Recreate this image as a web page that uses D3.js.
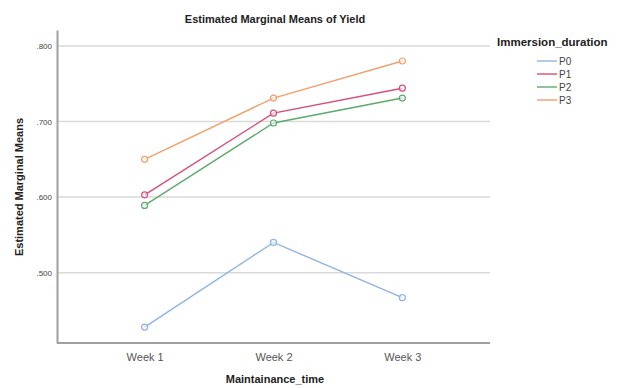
<!DOCTYPE html>
<html><head><meta charset="utf-8">
<script src="https://cdn.jsdelivr.net/npm/d3@7"></script>
<style>body{margin:0;background:#fff}svg{display:block;font-family:"Liberation Sans",Arial,sans-serif}</style>
</head><body><svg id="c" width="622" height="388"></svg>
<script>
const categories = ["Week 1", "Week 2", "Week 3"];
const seriesNames = ["P0", "P1", "P2", "P3"];
const P0 = [0.428, 0.540, 0.467];
const P1 = [0.603, 0.711, 0.744];
const P2 = [0.589, 0.698, 0.731];
const P3 = [0.650, 0.731, 0.780];
const yTicks = [0.5, 0.6, 0.7, 0.8];
const colors = ["#8db4e4", "#d84d78", "#5caa6c", "#f3a06a"];
const seriesValues = [P0, P1, P2, P3];

const svg = d3.select("#c");
const L = 57, R = 490, T = 30, B = 343;
const x = d3.scalePoint().domain(categories).range([L, R]).padding(0.68);
const y = d3.scaleLinear().domain([0.407, 0.821]).range([B, T]);

// gridlines
svg.append("g").selectAll("line").data(yTicks).join("line")
  .attr("x1", L).attr("x2", R).attr("y1", d => y(d)).attr("y2", d => y(d))
  .attr("stroke", "#d9d9d9").attr("stroke-width", 1.5);

// y axis
const ya = svg.append("g").attr("transform", `translate(${L},0)`)
  .call(d3.axisLeft(y).tickValues(yTicks).tickSize(0).tickPadding(5).tickFormat(d => d3.format(".3f")(d).replace(/^0/, "")));
ya.select(".domain").attr("stroke", "#a0a0a0").attr("stroke-width", 2);
ya.selectAll("text").attr("font-size", 8).attr("fill", "#444");

// x axis
const xa = svg.append("g").attr("transform", `translate(0,${B})`)
  .call(d3.axisBottom(x).tickSize(0).tickPadding(10));
xa.select(".domain").attr("stroke", "#a0a0a0").attr("stroke-width", 2).attr("d", `M${L},0H${R}`);
xa.selectAll("text").attr("font-size", 11).attr("fill", "#555");

// lines
const line = d3.line().x((d, i) => x(categories[i])).y(d => y(d));
seriesValues.forEach((vals, s) => {
  svg.append("path").datum(vals).attr("d", line).attr("fill", "none")
    .attr("stroke", colors[s]).attr("stroke-width", 1.4);
  svg.append("g").selectAll("circle").data(vals).join("circle")
    .attr("cx", (d, i) => x(categories[i])).attr("cy", d => y(d)).attr("r", 3)
    .attr("fill", "#fff").attr("fill-opacity", 0.6).attr("stroke", colors[s]).attr("stroke-width", 1.2);
});

// titles
svg.append("text").attr("x", 275).attr("y", 23).attr("text-anchor", "middle")
  .attr("font-size", 11).attr("font-weight", "bold").attr("fill", "#222").text("Estimated Marginal Means of Yield");
svg.append("text").attr("transform", "translate(23,187) rotate(-90)").attr("text-anchor", "middle")
  .attr("font-size", 11).attr("font-weight", "bold").attr("fill", "#222").text("Estimated Marginal Means");
svg.append("text").attr("x", 275).attr("y", 383).attr("text-anchor", "middle")
  .attr("font-size", 11).attr("font-weight", "bold").attr("fill", "#222").text("Maintainance_time");

// legend
svg.append("text").attr("x", 497).attr("y", 46).attr("font-size", 11.5).attr("font-weight", "bold")
  .attr("fill", "#222").text("Immersion_duration");
const lg = svg.append("g").selectAll("g").data(seriesNames).join("g")
  .attr("transform", (d, i) => `translate(0,${61 + i * 13})`);
lg.append("line").attr("x1", 537).attr("x2", 557).attr("stroke", (d, i) => colors[i]).attr("stroke-width", 1.4);
lg.append("text").attr("x", 559).attr("y", 4).attr("font-size", 10).attr("fill", "#444").text(d => d);
</script></body></html>
